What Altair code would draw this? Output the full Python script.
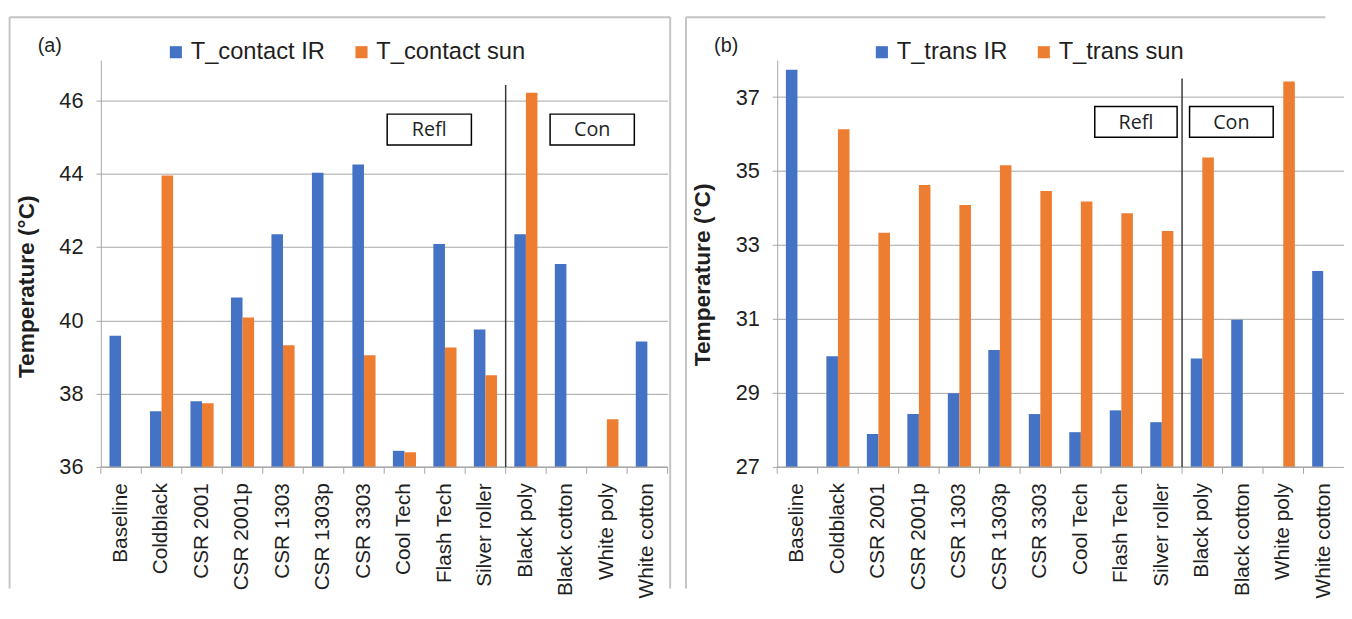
import altair as alt
import pandas as pd

categories = ["Baseline", "Coldblack", "CSR 2001", "CSR 2001p", "CSR 1303", "CSR 1303p",
              "CSR 3303", "Cool Tech", "Flash Tech", "Silver roller", "Black poly",
              "Black cotton", "White poly", "White cotton"]

contact_ir = [39.58, 37.52, 37.79, 40.62, 42.35, 44.03, 44.25, 36.44, 42.08, 39.75, 42.35, 41.54, None, 39.42]
contact_sun = [None, 43.95, 37.74, 40.08, 39.32, None, 39.05, 36.40, 39.26, 38.50, 46.21, None, 37.30, None]
trans_ir = [37.74, 29.99, 27.89, 28.43, 28.99, 30.16, 28.43, 27.94, 28.53, 28.21, 29.93, 30.98, None, 32.30]
trans_sun = [None, 36.13, 33.33, 34.62, 34.08, 35.16, 34.46, 34.18, 33.86, 33.38, 35.37, None, 37.42, None]

contact_names = ["T_contact IR", "T_contact sun"]
trans_names = ["T_trans IR", "T_trans sun"]
contact_ticks = [36, 38, 40, 42, 44, 46]
trans_ticks = [27, 29, 31, 33, 35, 37]

BLUE = "#4472C4"
ORANGE = "#ED7D31"
FONT = "Liberation Sans"
TXT = "#1f1f1f"
AX = "#a6a6a6"
BORDER = "#c4c4c4"
WR = 574          # width of the category range (14 bands)
H = 412
STEP = WR / len(categories)
BOTTOM = 535      # where the panel frame leaves the picture

one = pd.DataFrame({"k": [0]})
cats_df = pd.DataFrame({"cat": categories})


def panel(ir, sun, names, domain, ticks, tag, legend_x, sep_top, box_y, refl_x, con_x,
          title_y, view_w, frame_right, right_side):
    rows = []
    for c, a, b in zip(categories, ir, sun):
        if a is not None:
            rows.append({"cat": c, "series": names[0], "value": a})
        if b is not None:
            rows.append({"cat": c, "series": names[1], "value": b})
    df = pd.DataFrame(rows)

    xscale = alt.Scale(range=[0, WR], paddingInner=0, paddingOuter=0)
    xaxis = alt.Axis(title=None, labelAngle=-90, labelFontSize=21, labelFont=FONT,
                     labelColor=TXT, ticks=False, domain=False, labelPadding=16,
                     grid=False, labelBaseline="middle", labelAlign="right",
                     labelLimit=300)

    # panel frame (top, left and optional right edge)
    frame = [
        alt.Chart(one).mark_rule(color=BORDER, strokeWidth=2).encode(
            x=alt.value(-92.4), x2=alt.value(frame_right), y=alt.value(-43.3)),
        alt.Chart(one).mark_rule(color=BORDER, strokeWidth=2).encode(
            x=alt.value(-92.4), y=alt.value(-43.3), y2=alt.value(BOTTOM)),
    ]
    if right_side:
        frame.append(alt.Chart(one).mark_rule(color=BORDER, strokeWidth=2).encode(
            x=alt.value(frame_right), y=alt.value(-43.3), y2=alt.value(BOTTOM)))

    bars = alt.Chart(df).mark_bar(clip=True).encode(
        x=alt.X("cat:N", sort=categories, scale=xscale, axis=xaxis),
        xOffset=alt.XOffset("series:N", sort=names,
                            scale=alt.Scale(paddingInner=0, paddingOuter=0.75)),
        y=alt.Y("value:Q",
                scale=alt.Scale(domain=domain, zero=False, nice=False),
                axis=alt.Axis(values=ticks, grid=True, gridColor=AX, gridWidth=1,
                              domainColor=AX, tickColor=AX, tickSize=5,
                              labelPadding=13, labelFontSize=22, labelFont=FONT, labelColor=TXT,
                              title="Temperature (°C)", titleFontSize=23, titleFont=FONT,
                              titleFontWeight="bold", titleColor=TXT, titlePadding=21,
                              titleY=title_y)),
        y2=alt.datum(domain[0]),
        color=alt.Color("series:N", sort=names,
                        scale=alt.Scale(domain=names, range=[BLUE, ORANGE]),
                        legend=alt.Legend(orient="none", legendX=legend_x, legendY=-20,
                                          direction="horizontal", title=None,
                                          symbolType="square", symbolSize=150,
                                          symbolStrokeWidth=0, labelFontSize=24,
                                          labelFont=FONT, labelColor=TXT,
                                          columnPadding=24, labelOffset=3, padding=0,
                                          labelLimit=300)),
    )

    # category boundary ticks and the category axis line
    xticks = alt.Chart(cats_df).mark_rule(color=AX, strokeWidth=1).encode(
        x=alt.X("cat:N", sort=categories, scale=xscale, bandPosition=0, axis=xaxis),
        y=alt.value(H), y2=alt.value(H + 7))
    layers = [xticks]
    if right_side:
        layers.append(alt.Chart(one).mark_rule(color=AX, strokeWidth=1).encode(
            x=alt.value(WR), y=alt.value(H), y2=alt.value(H + 7)))
    baseline = alt.Chart(one).mark_rule(color=AX, strokeWidth=1).encode(
        x=alt.value(0), x2=alt.value(view_w), y=alt.value(H))

    sep = alt.Chart(one).mark_rule(color="#3a3a3a", strokeWidth=1.5).encode(
        x=alt.value(STEP * 10), y=alt.datum(sep_top), y2=alt.value(H))

    box1 = alt.Chart(one).mark_rect(fill="white", stroke="black", strokeWidth=1.5).encode(
        x=alt.value(refl_x[0]), x2=alt.value(refl_x[1]), y=alt.value(box_y[0]), y2=alt.value(box_y[1]))
    box2 = alt.Chart(one).mark_rect(fill="white", stroke="black", strokeWidth=1.5).encode(
        x=alt.value(con_x[0]), x2=alt.value(con_x[1]), y=alt.value(box_y[0]), y2=alt.value(box_y[1]))
    cy = (box_y[0] + box_y[1]) / 2
    t1 = alt.Chart(one).mark_text(text="Refl", font="Open Sans", fontSize=20, color=TXT,
                                  align="center", baseline="middle").encode(
        x=alt.value((refl_x[0] + refl_x[1]) / 2), y=alt.value(cy + 1))
    t2 = alt.Chart(one).mark_text(text="Con", font="Open Sans", fontSize=20, color=TXT,
                                  align="center", baseline="middle").encode(
        x=alt.value((con_x[0] + con_x[1]) / 2), y=alt.value(cy + 1))
    tg = alt.Chart(one).mark_text(text=tag, font=FONT, fontSize=20, color=TXT,
                                  align="center", baseline="middle").encode(
        x=alt.value(-51.7), y=alt.value(-14))

    return alt.layer(*frame, bars, baseline, *layers, sep, box1, box2, t1, t2, tg).properties(
        width=view_w, height=H)


left = panel(contact_ir, contact_sun, contact_names, [36, 47.1], contact_ticks, "(a)",
             64, 46.42, (54.7, 86), (290, 375.3), (455, 540.3), 229, WR, 576.6, True)
right = panel(trans_ir, trans_sun, trans_names, [27, 38.0], trans_ticks, "(b)",
              94, 37.5, (47, 78), (321.6, 405), (417.6, 502.3), 217, 553, 555, False)

chart = alt.hconcat(left, right, spacing=13).resolve_scale(
    color="independent", xOffset="independent", x="independent", y="independent"
).properties(
    padding={"left": 0, "top": 4, "right": 0, "bottom": 0},
    background="white",
).configure_view(stroke=None)

chart.save("out.html", embed_options={"renderer": "svg", "actions": False})
